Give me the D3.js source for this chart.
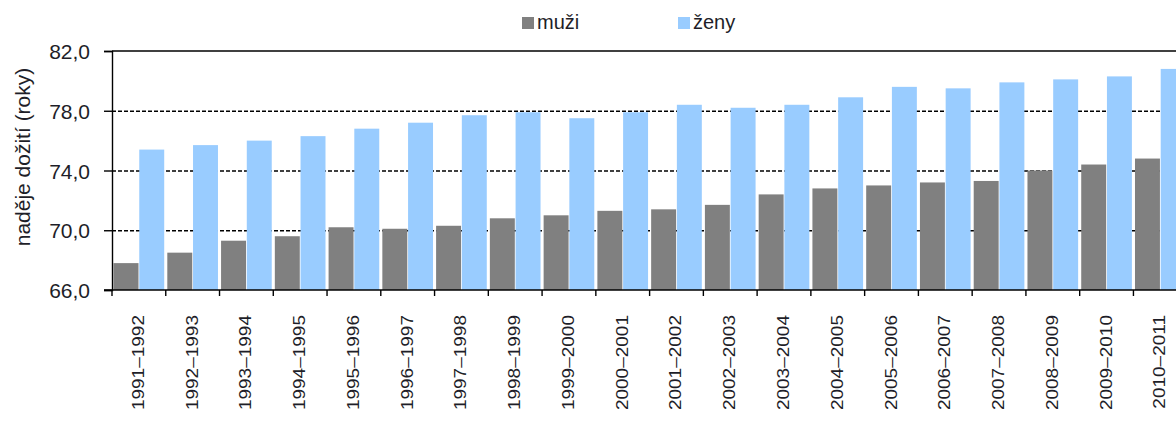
<!DOCTYPE html>
<meta charset="utf-8">
<style>
body { margin: 0; background: #fff; }
text { font-family: "Liberation Sans", Arial, sans-serif; fill: #1e1e28; }
.grid line { stroke: #000; stroke-width: 1.3px; stroke-dasharray: 4,2; }
</style>
<svg width="1176" height="421"></svg>
<script src="https://cdn.jsdelivr.net/npm/d3@7"></script>
<script>

var obdobi = ["1991–1992", "1992–1993", "1993–1994", "1994–1995", "1995–1996",
    "1996–1997", "1997–1998", "1998–1999", "1999–2000", "2000–2001",
    "2001–2002", "2002–2003", "2003–2004", "2004–2005", "2005–2006",
    "2006–2007", "2007–2008", "2008–2009", "2009–2010", "2010–2011"];
var muzi = [67.8, 68.5, 69.3, 69.6, 70.2, 70.1, 70.3, 70.8, 71.0, 71.3,
    71.4, 71.7, 72.4, 72.8, 73.0, 73.2, 73.3, 74.0, 74.4, 74.8];
var zeny = [75.4, 75.7, 76.0, 76.3, 76.8, 77.2, 77.7, 77.9, 77.5, 77.9,
    78.4, 78.2, 78.4, 78.9, 79.6, 79.5, 79.9, 80.1, 80.3, 80.8];
var serie = ["muži", "ženy"];
var yTicks = [66, 70, 74, 78, 82];

var barvy = d3.scaleOrdinal().domain(serie).range(["#808080", "#99ccff"]);

var svg = d3.select("svg"),
    mLeft = 112, mTop = 51, mBottom = 290,
    step = 53.76;

var x0 = d3.scaleBand()
    .domain(obdobi)
    .range([mLeft, mLeft + obdobi.length * step]);

var x1 = d3.scaleBand()
    .domain(serie)
    .range([0, x0.bandwidth()])
    .paddingInner(0.03)
    .paddingOuter(0.06);

var y = d3.scaleLinear()
    .domain([66, 82])
    .range([mBottom, mTop]);

var fmt = function(d) { return d3.format(".1f")(d).replace(".", ","); };

// dashed grid
svg.append("g")
    .attr("class", "grid")
    .selectAll("line")
    .data([70, 74, 78])
    .enter().append("line")
    .attr("x1", mLeft)
    .attr("x2", 1176)
    .attr("y1", function(d) { return y(d) + 0.5; })
    .attr("y2", function(d) { return y(d) + 0.5; });

// top border
svg.append("line")
    .attr("x1", mLeft).attr("x2", 1176)
    .attr("y1", y(82)).attr("y2", y(82))
    .attr("stroke", "#000").attr("stroke-width", 1.4);

// bars
var rows = obdobi.map(function(c, i) {
    return {obdobi: c, values: [{k: "muži", v: muzi[i]}, {k: "ženy", v: zeny[i]}]};
});

svg.append("g")
    .selectAll("g")
    .data(rows)
    .enter().append("g")
    .attr("transform", function(d) { return "translate(" + x0(d.obdobi) + ",0)"; })
    .selectAll("rect")
    .data(function(d) { return d.values; })
    .enter().append("rect")
    .attr("x", function(d) { return x1(d.k); })
    .attr("width", x1.bandwidth())
    .attr("y", function(d) { return y(d.v); })
    .attr("height", function(d) { return mBottom - y(d.v); })
    .attr("fill", function(d) { return barvy(d.k); });

// y axis
var yAxis = svg.append("g")
    .attr("transform", "translate(" + mLeft + ",0)")
    .call(d3.axisLeft(y).tickValues(yTicks).tickFormat(fmt).tickSize(8).tickPadding(14));
yAxis.select(".domain").attr("stroke", "#000").attr("stroke-width", 1.4);
yAxis.selectAll(".tick line").attr("stroke", "#000").attr("stroke-width", 1.4);
yAxis.selectAll("text")
    .style("font-size", "21px")
    .attr("fill", "#1e1e28")
    .attr("dy", "0.36em");

// x axis
svg.append("line")
    .attr("x1", mLeft - 8).attr("x2", 1176)
    .attr("y1", mBottom).attr("y2", mBottom)
    .attr("stroke", "#000").attr("stroke-width", 1.4);

svg.append("g")
    .selectAll("line")
    .data(obdobi)
    .enter().append("line")
    .attr("x1", function(d) { return x0(d); })
    .attr("x2", function(d) { return x0(d); })
    .attr("y1", mBottom)
    .attr("y2", mBottom + 6)
    .attr("stroke", "#000")
    .attr("stroke-width", 1.4);

svg.append("g")
    .selectAll("text")
    .data(obdobi)
    .enter().append("text")
    .attr("transform", function(d) {
        return "translate(" + (x0(d) + x0.bandwidth() / 2 + 5) + "," + (mBottom + 25) + ") rotate(-90) scale(1,0.85)";
    })
    .attr("text-anchor", "end")
    .style("font-size", "19px")
    .text(function(d) { return d; });

// y title
svg.append("text")
    .attr("transform", "translate(30,157) rotate(-90)")
    .attr("text-anchor", "middle")
    .style("font-size", "21px")
    .text("naděje dožití (roky)");

// legend
var legend = svg.append("g")
    .selectAll("g")
    .data(serie)
    .enter().append("g")
    .attr("transform", function(d, i) { return "translate(" + (522 + i * 156) + ",17)"; });

legend.append("rect")
    .attr("width", 12)
    .attr("height", 12)
    .attr("fill", function(d) { return barvy(d); });

legend.append("text")
    .attr("x", 15)
    .attr("y", 12)
    .style("font-size", "20px")
    .text(function(d) { return d; });

</script>
